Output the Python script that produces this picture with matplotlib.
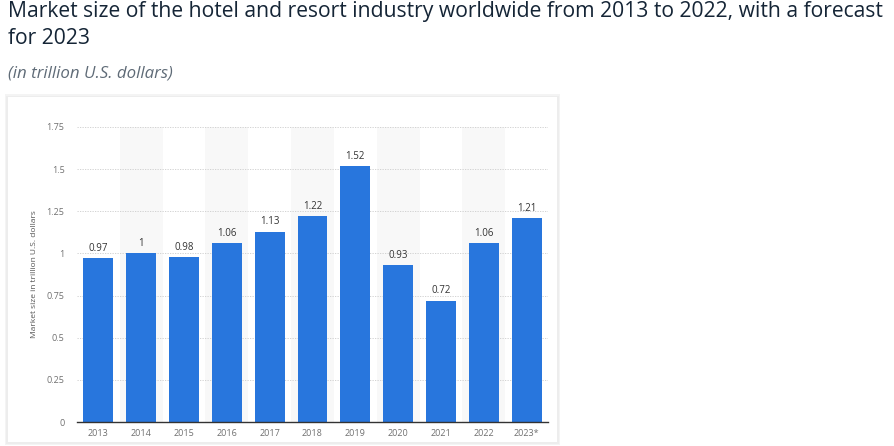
import matplotlib
matplotlib.use('Agg')
import matplotlib.pyplot as plt
import matplotlib.patches as mpatches
import numpy as np

years = ['2013', '2014', '2015', '2016', '2017', '2018', '2019',
         '2020', '2021', '2022', '2023*']
market_size = [0.97, 1.0, 0.98, 1.06, 1.13, 1.22, 1.52, 0.93, 0.72, 1.06, 1.21]
value_labels = ['0.97', '1', '0.98', '1.06', '1.13', '1.22', '1.52',
                '0.93', '0.72', '1.06', '1.21']
y_ticks = [0, 0.25, 0.5, 0.75, 1, 1.25, 1.5, 1.75]
y_tick_labels = ['0', '0.25', '0.5', '0.75', '1', '1.25', '1.5', '1.75']

W, H = 895, 446
fig = plt.figure(figsize=(W / 100, H / 100), dpi=100, facecolor='white')
plt.rcParams['font.family'] = ['Open Sans', 'DejaVu Sans']

# white card with soft shadow behind the chart
for off, col in [(3, '#f4f4f4'), (1.5, '#ededed')]:
    fig.patches.append(mpatches.Rectangle(
        ((8 - off) / W, (H - 442 - off) / H), (549 + 2 * off) / W, (345 + 2 * off) / H,
        transform=fig.transFigure, facecolor=col, edgecolor='none', zorder=-3))
fig.patches.append(mpatches.Rectangle(
    (8 / W, (H - 442) / H), 549 / W, 345 / H,
    transform=fig.transFigure, facecolor='white', edgecolor='none', zorder=-2))

fig.text(8 / W, 1 - 1 / H,
         'Market size of the hotel and resort industry worldwide from 2013 to 2022, with a forecast\nfor 2023',
         ha='left', va='top', fontsize=15.2, color='#152536', linespacing=1.4)
fig.text(8 / W, 1 - 73 / H, '(in trillion U.S. dollars)', ha='left', va='center',
         fontsize=12.2, color='#5f6b77', style='italic')

ax = fig.add_axes([77 / W, (H - 422) / H, 471 / W, 295 / H])
ax.set_facecolor('none')
x = np.arange(len(years))

for i in x:
    if i % 2 == 1:
        ax.axvspan(i - 0.5, i + 0.5, color='#f8f8f8', zorder=0, lw=0)

ax.bar(x, market_size, width=0.7, color='#2876dd', zorder=3)
for xi, v, lbl in zip(x, market_size, value_labels):
    ax.text(xi, v + 0.025, lbl, ha='center', va='bottom', fontsize=7,
            color='#333333', zorder=4)

ax.set_xlim(-0.5, len(years) - 0.5)
ax.set_ylim(0, 1.75)
ax.set_yticks(y_ticks)
ax.set_yticklabels(y_tick_labels)
ax.set_xticks(x)
ax.set_xticklabels(years)
ax.tick_params(axis='both', length=0, labelsize=6.5, labelcolor='#707070')
ax.tick_params(axis='y', pad=9)
ax.tick_params(axis='x', pad=5)
ax.grid(axis='y', linestyle=(0, (1.5, 1.5)), color='#cccccc', linewidth=0.6, zorder=1)
for s in ['top', 'right', 'left']:
    ax.spines[s].set_visible(False)
ax.spines['bottom'].set_color('#333333')
ax.spines['bottom'].set_linewidth(1)
ax.spines['bottom'].set_zorder(5)
ax.set_ylabel('Market size in trillion U.S. dollars', fontsize=6, color='#555555',
              labelpad=6)

fig.savefig('out.png', dpi=100, facecolor='white')
